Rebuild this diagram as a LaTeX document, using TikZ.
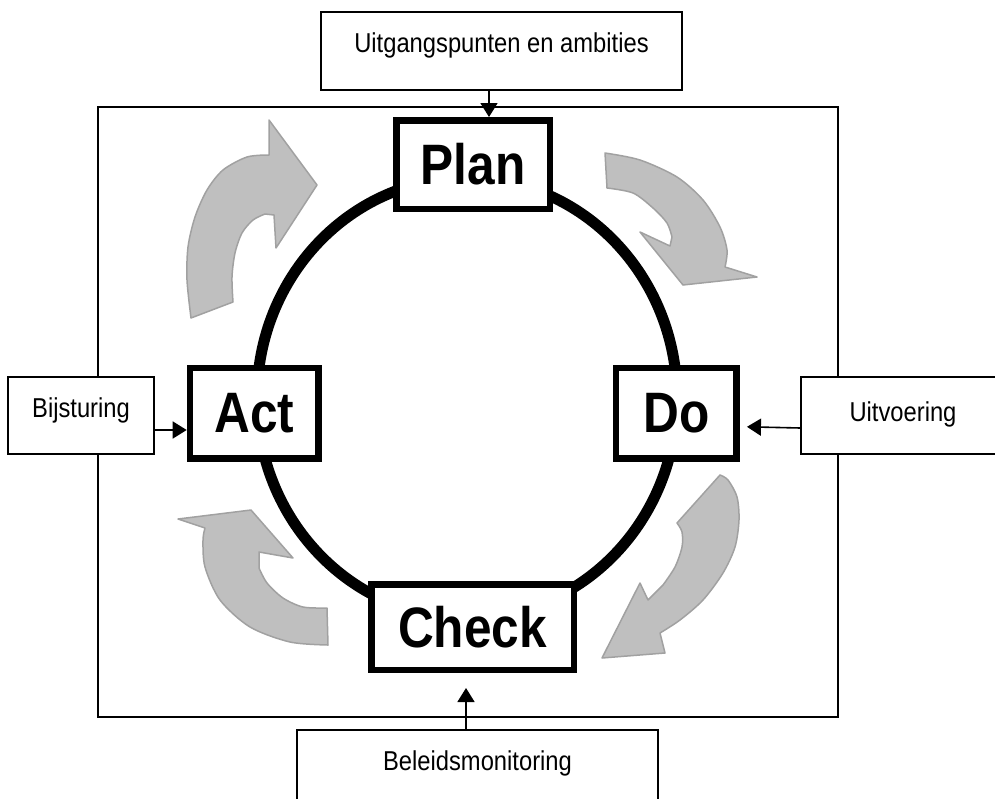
\documentclass[tikz,border=0pt]{standalone}
\usepackage{fontspec}
\setmainfont{Liberation Sans}[FakeStretch=0.87]
\usetikzlibrary{positioning, arrows.meta}
\definecolor{cyclegray}{gray}{0.75}
\definecolor{cycleedge}{gray}{0.63}

\begin{document}
\begin{tikzpicture}[x=1pt, y=-1pt,
    phase/.style={draw, line width=6.5pt, fill=white, inner sep=0pt, font=\fontsize{57}{60}\selectfont\bfseries},
    inputbox/.style={draw, line width=1.3pt, fill=white, minimum height=77pt, inner sep=0pt},
    inputtext/.style={anchor=base, font=\fontsize{27.3}{32}\selectfont},
    feed/.style={line width=1.6pt, -{Triangle[length=14pt, width=17pt]}},
    cyclearrow/.style={fill=cyclegray, draw=cycleedge, line width=1.5pt, line join=round}]
    \useasboundingbox (0,0) rectangle (995,798);
    \clip (0,0) rectangle (995,798);
    % Frame round the cycle
    \draw [line width=1.3pt] (98,107) rectangle (838,717);
    % Gray turning arrows
    \draw [cyclearrow] (233,302) -- plot [smooth] coordinates {(191,318) (187,280) (188,247) (195,217) (207,190) (223,170) (247,157) (269,155)}
        -- (269,120) -- (317,185) -- (276,248) -- (274,215)
        -- plot [smooth] coordinates {(265,214) (253,220) (242,233) (235,253) (232,277) (233,302)} -- cycle;
    \draw [cyclearrow] (607,188) -- plot [smooth] coordinates {(605,153) (640,160) (677,177) (703,200) (720,227) (727,250) (725,267)}
        -- (757,277) -- (683,285) -- (640,232) -- (670,246)
        -- plot [smooth] coordinates {(672,237) (667,223) (653,208) (633,193) (607,188)} -- cycle;
    \draw [cyclearrow] (677,523) -- plot [smooth] coordinates {(720,475) (728,480) (737,497) (739,520) (735,547) (723,573) (703,600) (680,620) (660,633)}
        -- (665,653) -- (602,658) -- (640,583) -- (648,600)
        -- plot [smooth] coordinates {(663,585) (675,567) (682,547) (682,532) (677,523)} -- cycle;
    \draw [cyclearrow] (327,608) -- plot [smooth] coordinates {(328,645) (290,642) (250,627) (220,600) (205,567) (203,540) (205,528)}
        -- (178,519) -- (251,510) -- (293,558) -- (259,552)
        -- plot [smooth] coordinates {(259,568) (267,583) (283,598) (303,607) (327,608)} -- cycle;
    % The ring
    \draw [line width=11pt] (467,398) ellipse [x radius=210pt, y radius=220pt];
    % Phases
    \node (plan) [phase, minimum width=153.5pt, minimum height=88.5pt] at (473,164.5) {Plan};
    \node (act) [phase, minimum width=128.5pt, minimum height=90.2pt] at (254.2,413.3) {Act};
    \node (do) [phase, minimum width=120.8pt, minimum height=90.2pt] at (676.3,413.3) {Do};
    \node (check) [phase, minimum width=202.5pt, minimum height=85.5pt] at (472.5,627) {Check};
    % Inputs
    \node (ambities) [inputbox, minimum width=361pt, minimum height=78pt, label={[inputtext, yshift=-40.7pt]north:Uitgangspunten en ambities}] at (501.5,51) {};
    \node (bijst) [inputbox, minimum width=146pt, label={[inputtext, yshift=-40.7pt]north:Bijsturing}] at (81,415.5) {};
    \node (uitv) [inputbox, minimum width=204pt, label={[inputtext, yshift=-45pt]north:Uitvoering}] at (903,415.5) {};
    \node (beleid) [inputbox, minimum width=361pt, label={[inputtext, yshift=-40.7pt]north:Beleidsmonitoring}] at (477.5,768.5) {};
    \draw [feed] ([xshift=-12.5pt]ambities.south) -- ([xshift=-12.5pt]ambities.south |- plan.north);
    \draw [feed] ([yshift=-14.5pt]bijst.east) -- ([yshift=-14.5pt]bijst.east -| act.west);
    \draw [feed] ([yshift=-12.5pt]uitv.west) -- ([xshift=7pt, yshift=-13.5pt]do.east);
    \draw [feed] ([xshift=-6.5pt]check.south |- beleid.north) -- ([xshift=-6.5pt, yshift=-15pt]check.south);
\end{tikzpicture}
\end{document}
